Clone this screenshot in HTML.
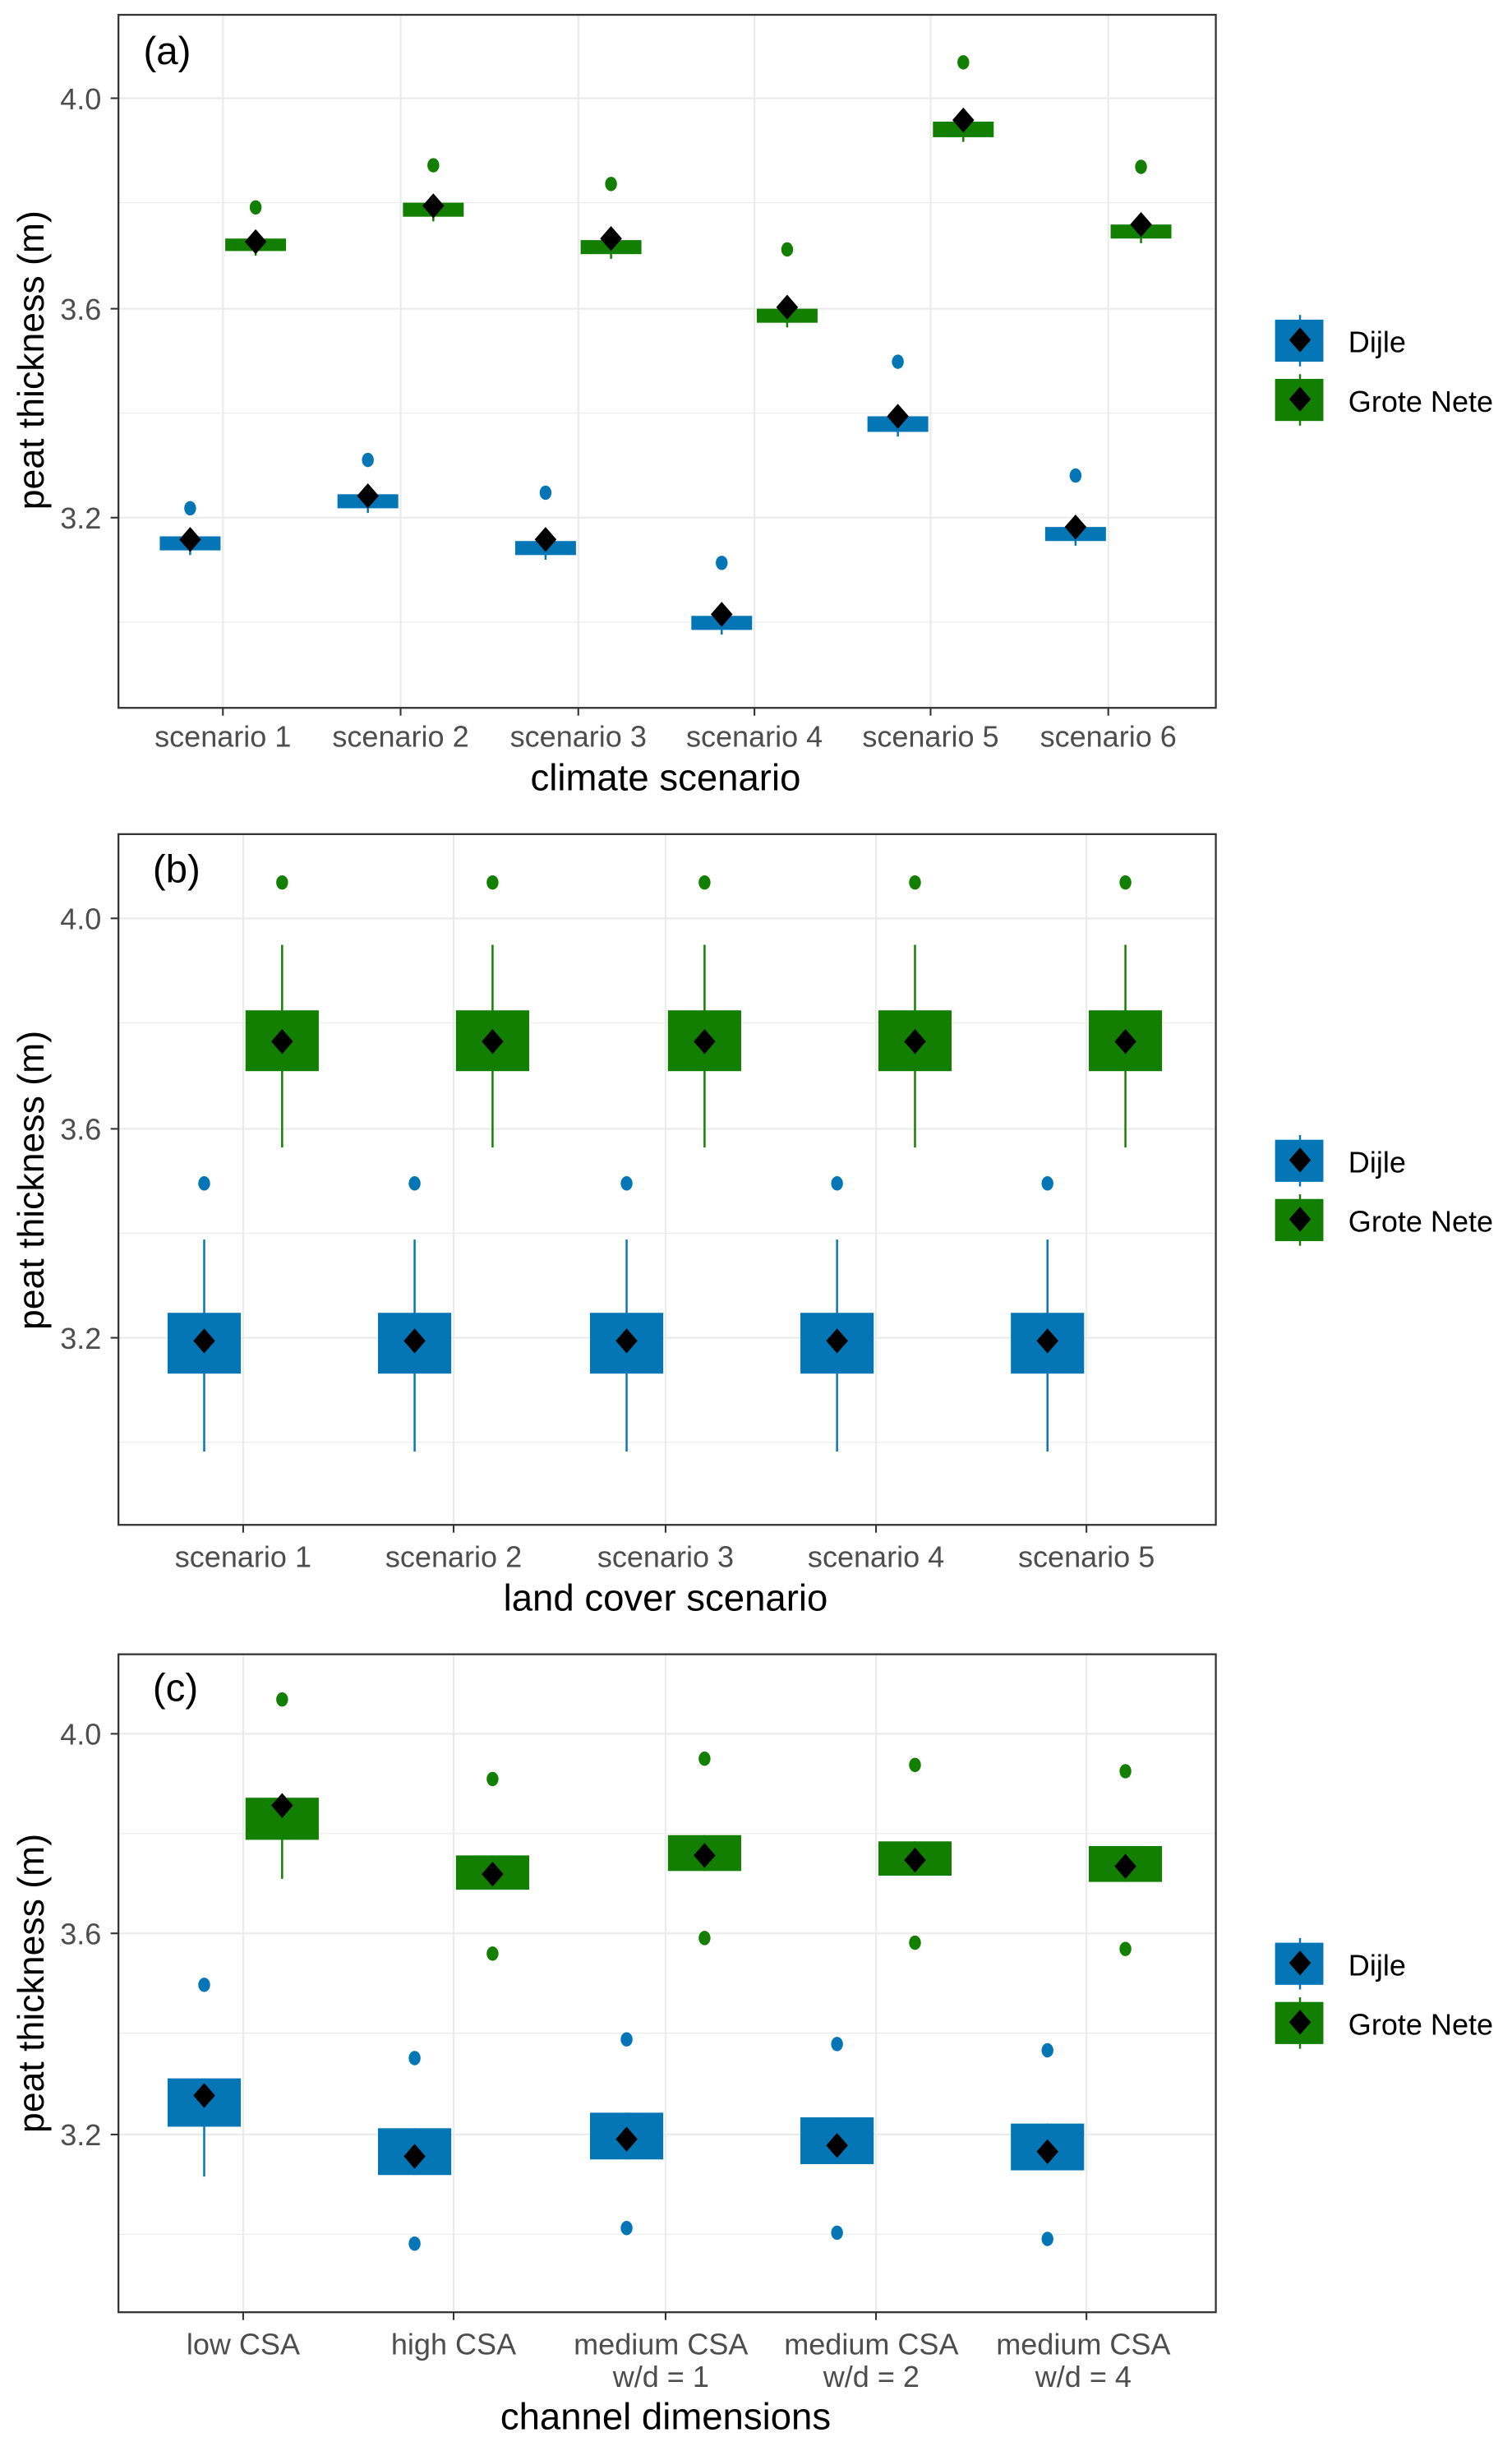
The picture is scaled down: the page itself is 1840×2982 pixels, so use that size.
<!DOCTYPE html>
<html><head><meta charset="utf-8"><style>
html,body{margin:0;padding:0;background:#fff}
svg{display:block}
text{font-family:"Liberation Sans",sans-serif}
</style></head><body>
<svg id="s" width="1840" height="2982" viewBox="0 0 970 1572" preserveAspectRatio="none" xmlns="http://www.w3.org/2000/svg">
<rect width="970" height="1572" fill="#fff"/>
<g id="g"></g>
<text x="92" y="41" font-size="25">(a)</text>
<g font-size="19" fill="#4d4d4d" text-anchor="end">
<text x="65" y="70">4.0</text><text x="65" y="205">3.6</text><text x="65" y="339">3.2</text>
<text x="65" y="596">4.0</text><text x="65" y="731">3.6</text><text x="65" y="865">3.2</text>
<text x="65" y="1119">4.0</text><text x="65" y="1247">3.6</text><text x="65" y="1376">3.2</text>
</g>
<g font-size="23.5" text-anchor="middle">
<text transform="translate(28,231) rotate(-90)">peat thickness (m)</text>
<text transform="translate(28,757) rotate(-90)">peat thickness (m)</text>
<text transform="translate(28,1272) rotate(-90)">peat thickness (m)</text>
</g>
<g font-size="19" fill="#4d4d4d" text-anchor="middle">
<text x="143" y="479">scenario 1</text><text x="257" y="479">scenario 2</text><text x="371" y="479">scenario 3</text>
<text x="484" y="479">scenario 4</text><text x="597" y="479">scenario 5</text><text x="711" y="479">scenario 6</text>
<text x="156" y="1005">scenario 1</text><text x="291" y="1005">scenario 2</text><text x="427" y="1005">scenario 3</text>
<text x="562" y="1005">scenario 4</text><text x="697" y="1005">scenario 5</text>
<text x="156" y="1510">low CSA</text><text x="291" y="1510">high CSA</text>
<text x="424" y="1510">medium CSA</text><text x="424" y="1531">w/d = 1</text>
<text x="559" y="1510">medium CSA</text><text x="559" y="1531">w/d = 2</text>
<text x="695" y="1510">medium CSA</text><text x="695" y="1531">w/d = 4</text>
</g>
<g font-size="24" text-anchor="middle">
<text x="427" y="507">climate scenario</text>
<text x="427" y="1033">land cover scenario</text>
<text x="427" y="1558">channel dimensions</text>
</g>
<text x="98" y="566" font-size="25">(b)</text>
<text x="98" y="1091" font-size="25">(c)</text>
<g font-size="19">
<text x="865" y="226">Dijle</text><text x="865" y="264">Grote Nete</text>
<text x="865" y="752">Dijle</text><text x="865" y="790">Grote Nete</text>
<text x="865" y="1267">Dijle</text><text x="865" y="1305">Grote Nete</text>
</g>
</svg>
<script>
var g=document.getElementById('g'),NS='http://www.w3.org/2000/svg';
function el(t,a){var e=document.createElementNS(NS,t);for(var k in a)e.setAttribute(k,a[k]);g.appendChild(e);return e;}
var B='#0576b5',G='#137f00';
function panel(top,bot,ys,minor,xs){
  el('rect',{x:76,y:top,width:704,height:bot-top,fill:'#fff'});
  minor.forEach(function(y){el('line',{x1:76,x2:780,y1:y,y2:y,stroke:'#ebebeb','stroke-width':0.6});});
  ys.forEach(function(y){el('line',{x1:76,x2:780,y1:y,y2:y,stroke:'#ebebeb','stroke-width':1.2});
    el('line',{x1:71,x2:76,y1:y,y2:y,stroke:'#333','stroke-width':1.1});});
  xs.forEach(function(x){el('line',{x1:x,x2:x,y1:top,y2:bot,stroke:'#ebebeb','stroke-width':1.2});
    el('line',{x1:x,x2:x,y1:bot,y2:bot+5,stroke:'#333','stroke-width':1.1});});
}
function box(x,w,b0,b1,wl,wh,mean,outs,c){
  el('line',{x1:x,x2:x,y1:wl,y2:wh,stroke:c,'stroke-width':1.3});
  el('rect',{x:x-w/2,y:b0,width:w,height:b1-b0,fill:c});
  outs.forEach(function(o){el('ellipse',{cx:x,cy:o,rx:3.8,ry:4.6,fill:c});});
  el('path',{d:'M'+x+','+(mean-8)+'L'+(x+7)+','+mean+'L'+x+','+(mean+8)+'L'+(x-7)+','+mean+'Z',fill:'#000'});
}
function frame(top,bot){el('rect',{x:76,y:top,width:704,height:bot-top,fill:'none',stroke:'#333','stroke-width':1.2});}
function legend(dy){
  el('line',{x1:834,x2:834,y1:202+dy,y2:235+dy,stroke:B,'stroke-width':1.3});
  el('rect',{x:818,y:205+dy,width:31,height:27,fill:B});
  el('path',{d:'M834,'+(210+dy)+'L841,'+(218+dy)+'L834,'+(226+dy)+'L827,'+(218+dy)+'Z',fill:'#000'});
  el('line',{x1:834,x2:834,y1:240+dy,y2:273+dy,stroke:G,'stroke-width':1.3});
  el('rect',{x:818,y:243+dy,width:31,height:27,fill:G});
  el('path',{d:'M834,'+(248+dy)+'L841,'+(256+dy)+'L834,'+(264+dy)+'L827,'+(256+dy)+'Z',fill:'#000'});
}
var xa=[143,257,371,484,597,711];
panel(9.5,454,[63,198,332],[130,265,399],xa);
var A=[[344,353,346,326,153,161,155,133],[317,326,318,295,130,139,132,106],[347,356,346,316,154,163,153,118],
[395,404,394,361,198,207,197,160],[267,277,267,232,78,88,77,40],[338,347,338,305,144,153,144,107]];
A.forEach(function(d,i){var x=xa[i];
  box(x-21,39,d[0],d[1],d[0]-2,d[1]+3,d[2],[d[3]],B);
  box(x+21,39,d[4],d[5],d[4]-2,d[5]+3,d[6],[d[7]],G);});
frame(9.5,454);legend(0);
var xb=[156,291,427,562,697];
panel(535,978,[589,724,858],[656,791,925],xb);
xb.forEach(function(x){box(x-25,47,842,881,795,931,860,[759],B);box(x+25,47,648,687,606,736,668,[566],G);});
frame(535,978);legend(526);
panel(1061,1483,[1112,1240,1369],[1176,1304,1433],xb);
var C=[[1333,1364,1333,1396,1344,[1273],1153,1180,1153,1205,1158,[1090]],
[1365,1395,1365,1395,1383,[1320,1439],1190,1212,1190,1212,1202,[1141,1253]],
[1355,1385,1355,1385,1372,[1308,1429],1177,1200,1177,1200,1190,[1128,1243]],
[1358,1388,1358,1388,1376,[1311,1432],1181,1203,1181,1203,1193,[1132,1246]],
[1362,1392,1362,1392,1380,[1315,1436],1184,1207,1184,1207,1197,[1136,1250]]];
C.forEach(function(d,i){var x=xb[i];
  box(x-25,47,d[0],d[1],d[2],d[3],d[4],d[5],B);
  box(x+25,47,d[6],d[7],d[8],d[9],d[10],d[11],G);});
frame(1061,1483);legend(1041);
</script>
</body></html>
